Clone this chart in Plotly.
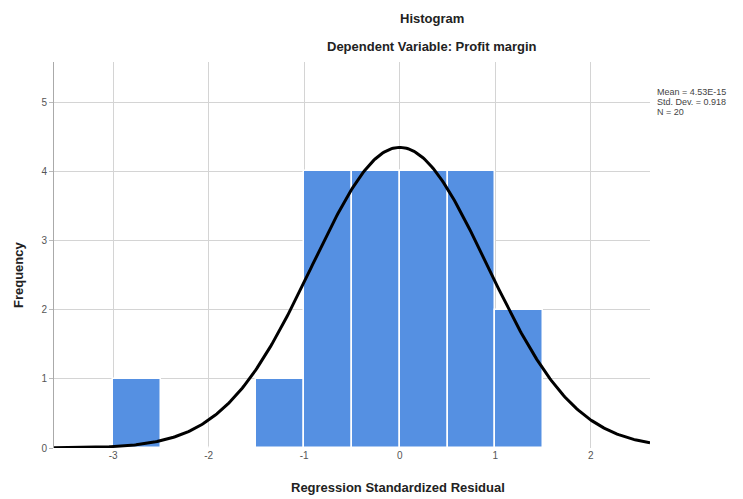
import numpy as np
import plotly.graph_objects as go

bin_left = [-3.0, -2.5, -2.0, -1.5, -1.0, -0.5, 0.0, 0.5, 1.0]
frequency = [1, 0, 0, 1, 4, 4, 4, 4, 2]
bin_width = 0.5
mean_val = 4.53e-15
std_dev = 0.918
n_obs = 20
x_ticks = [-3, -2, -1, 0, 1, 2]
x_tick_text = ["-3", "-2", "-1", "0", "1", "2"]
y_ticks = [0, 1, 2, 3, 4, 5]
stat_lines = ["Mean = 4.53E-15", "Std. Dev. = 0.918", "N = 20"]

centers = [b + bin_width / 2 for b in bin_left]
xs = np.linspace(-3.62, 2.62, 400)
curve = n_obs * bin_width / (std_dev * np.sqrt(2 * np.pi)) * np.exp(-0.5 * ((xs - mean_val) / std_dev) ** 2)

fig = go.Figure()
fig.add_trace(go.Bar(x=centers, y=frequency, width=bin_width,
                     marker=dict(color="#5590E2", line=dict(color="white", width=1.5)),
                     showlegend=False))
fig.add_trace(go.Scatter(x=xs, y=curve, mode="lines",
                         line=dict(color="black", width=3), showlegend=False))

# page has an 8px body margin; figure placed at (8,8)
OFF = 8
W, H = 743 - OFF, 499 - OFF
ML, MR, MT, MB = 54 - OFF, 93, 62 - OFF, 51
font = "Liberation Sans, Arial, sans-serif"

annots = [
    dict(text="<b>Histogram</b>", x=432, y=18, xanchor="center",
         font=dict(size=13, color="#222", family=font)),
    dict(text="<b>Dependent Variable: Profit margin</b>", x=432, y=46, xanchor="center",
         font=dict(size=13, color="#222", family=font)),
    dict(text="<b>Frequency</b>", x=18, y=275, textangle=-90, xanchor="center",
         font=dict(size=13, color="#222", family=font)),
    dict(text="<b>Regression Standardized Residual</b>", x=398, y=488, xanchor="center",
         font=dict(size=13, color="#222", family=font)),
]
for i, s in enumerate(stat_lines):
    annots.append(dict(text=s, x=655, y=91.5 + 10.2 * i, xanchor="left",
                       font=dict(size=9, color="#444", family=font)))

pw = W - ML - MR
ph = H - MT - MB
for a in annots:
    fx, fy = a["x"] - OFF, a["y"] - OFF
    a["x"] = (fx - ML) / pw
    a["y"] = (H - MB - fy) / ph
    a.update(xref="paper", yref="paper", yanchor="middle", showarrow=False)

fig.update_layout(
    width=W, height=H,
    margin=dict(l=ML, r=MR, t=MT, b=MB, autoexpand=False),
    plot_bgcolor="white", paper_bgcolor="white",
    bargap=0,
    font=dict(family=font, size=10, color="#444"),
    xaxis=dict(range=[-3.62, 2.62], tickvals=x_ticks, ticktext=x_tick_text, showgrid=True, gridcolor="#d4d4d4",
               gridwidth=1, zeroline=False, showline=False, ticks="", tickfont=dict(size=10, color="#555")),
    yaxis=dict(range=[0, 5.58], tickvals=y_ticks, showgrid=True, gridcolor="#d4d4d4",
               gridwidth=1, zeroline=False, showline=True, linecolor="#aaaaaa", linewidth=1,
               ticks="outside", ticklen=4, tickcolor="#bbbbbb", tickfont=dict(size=10, color="#555")),
    annotations=annots,
)

fig.write_html("out.html")
